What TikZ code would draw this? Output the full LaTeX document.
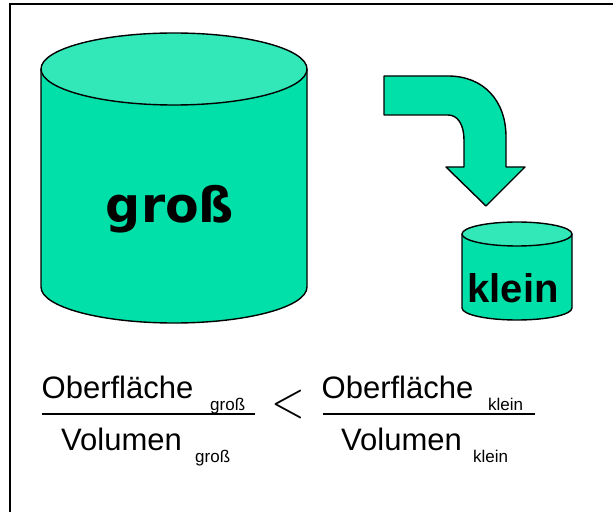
\documentclass[tikz,border=0pt]{standalone}
\usepackage{fontspec}
\setmainfont{Liberation Sans}
\newfontfamily\tahomalike{DejaVu Sans}
\newfontfamily\relfont{Latin Modern Roman}
\definecolor{sidegreen}{RGB}{0,224,168}
\definecolor{topgreen}{RGB}{51,232,184}
\begin{document}
\begin{tikzpicture}[x=1pt,y=1pt,
  outline/.style={draw=black,line width=1.4pt,line join=round},
  bigword/.style={inner sep=0pt,anchor=base,font=\tahomalike\bfseries\fontsize{49}{49}\selectfont},
  smallword/.style={inner sep=0pt,anchor=base,font=\bfseries\fontsize{40}{40}\selectfont},
  term/.style={inner sep=0pt,anchor=base west,font=\fontsize{31}{31}\selectfont},
  index/.style={inner sep=0pt,anchor=base west,font=\fontsize{17}{17}\selectfont},
  fracbar/.style={draw=black,line width=1.5pt}]
\useasboundingbox (0,0) rectangle (613,512);
\fill[white] (0,0) rectangle (613,512);
% frame
\draw[line width=2pt] (10,0) -- (10,508) -- (613,508);

% large cylinder
\path[fill=sidegreen,outline] (41,443) -- (41,225)
  arc[start angle=180,end angle=360,x radius=133,y radius=36]
  -- (307,443);
\path[fill=topgreen,outline] (174,443) ellipse[x radius=133,y radius=36];
\node[bigword] (gross) at (170,289) {groß};

% curved arrow
\path[fill=sidegreen,outline] (384,436) -- (448,436)
  .. controls (483,436) and (506,412) .. (506,375)
  -- (506,345) -- (525,345) -- (486,306) -- (446,345) -- (464,345)
  -- (464,372)
  .. controls (464,387) and (458,397) .. (448,397)
  -- (384,397) -- cycle;

% small cylinder
\path[fill=sidegreen,outline] (462,278) -- (462,204)
  arc[start angle=180,end angle=360,x radius=55,y radius=12]
  -- (572,278);
\path[fill=topgreen,outline] (517,278) ellipse[x radius=55,y radius=12];
\node[smallword] (klein) at (513,209) {klein};

% ratio comparison
\node[term]  (oleft)  at (41.5,114) {Oberfläche};
\node[index] (oleftsub) at (210,102) {groß};
\coordinate (barLa) at (42,98);
\coordinate (barLb) at (255,98);
\draw[fracbar] (barLa) -- (barLb);
\node[term]  (vleft)  at (61,62) {Volumen};
\node[index] (vleftsub) at (195,50) {groß};

\node[inner sep=0pt] (less) at (288,107)
  {\scalebox{0.85}[1]{\relfont\fontsize{52}{52}\selectfont <}};

\node[term]  (oright)  at (321.5,114) {Oberfläche};
\node[index] (orightsub) at (488,102) {klein};
\coordinate (barRa) at (323,98);
\coordinate (barRb) at (535,98);
\draw[fracbar] (barRa) -- (barRb);
\node[term]  (vright)  at (341,62) {Volumen};
\node[index] (vrightsub) at (473,50) {klein};
\end{tikzpicture}
\end{document}
